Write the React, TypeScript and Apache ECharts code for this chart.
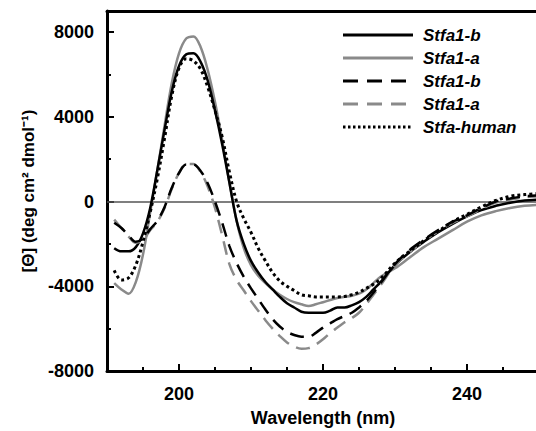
import React, { useEffect, useRef } from "react";
import * as echarts from "echarts";

// Wavelengths (nm)
const wavelengths = [
  191, 192, 193, 194, 195, 196, 197, 198, 199, 200, 201, 202, 203, 204, 205, 206, 207, 208, 209, 210,
  211, 212, 213, 214, 215, 216, 217, 218, 219, 220, 221, 222, 223, 224, 225, 226, 227, 228,
  230, 232, 234, 236, 238, 240, 242, 244, 246, 248, 250,
];

// Stfa1-b (solid black)
const stfa1bSolid = [
  -2200, -2350, -2350, -2150, -1500, -300, 1500, 3400, 5200, 6400, 6950, 7000, 6600, 5700, 4300, 2700, 900, -900, -2000, -2800,
  -3350, -3800, -4150, -4500, -4800, -5000, -5200, -5250, -5250, -5250, -5150, -5000, -5000, -4900, -4750, -4500, -4150, -3800,
  -3000, -2400, -1900, -1450, -1050, -700, -400, -200, -50, 50, 100,
];

// Stfa1-a (solid gray)
const stfa1aSolid = [
  -3850, -4150, -4350, -3800, -2500, -500, 1500, 3600, 5600, 7000, 7700, 7800, 7300, 6200, 4700, 2900, 900, -900, -2200, -3000,
  -3500, -3850, -4150, -4400, -4600, -4750, -4850, -4930, -4850, -4750, -4650, -4550, -4500, -4450, -4350, -4150, -3850, -3550,
  -3150, -2650, -2150, -1750, -1350, -950, -650, -450, -300, -200, -150,
];

// Stfa1-b (dashed black)
const stfa1bDashed = [
  -1000, -1250, -1600, -1900, -1750, -1300, -900, -250, 650, 1350, 1750, 1750, 1450, 850, 0, -1000, -2100, -2900, -3550, -4100,
  -4600, -5100, -5550, -5900, -6150, -6300, -6380, -6380, -6200, -5950, -5750, -5550, -5400, -5250, -5000, -4700, -4300, -3850,
  -2950, -2300, -1800, -1350, -950, -650, -300, 0, 150, 250, 300,
];

// Stfa1-a (dashed gray)
const stfa1aDashed = [
  -850, -1250, -1650, -1950, -1800, -1350, -950, -300, 600, 1350, 1780, 1780, 1400, 700, -300, -1600, -2950, -3700, -4200, -4700,
  -5150, -5600, -6000, -6350, -6650, -6850, -6950, -6920, -6750, -6500, -6200, -5950, -5700, -5500, -5250, -4850, -4400, -3950,
  -3000, -2400, -1850, -1400, -1000, -700, -350, -50, 100, 200, 250,
];

// Stfa-human (dotted black)
const stfaHuman = [
  -3250, -3700, -3600, -3000, -1900, -500, 1100, 3000, 5000, 6300, 6750, 6650, 6250, 5400, 4300, 3050, 1400, 0, -800, -1450,
  -2200, -2800, -3350, -3750, -4000, -4200, -4400, -4450, -4500, -4500, -4500, -4500, -4480, -4400, -4280, -4100, -3900, -3650,
  -2900, -2350, -1850, -1400, -950, -600, -250, 50, 250, 330, 380,
];

const legendLabels = ["Stfa1-b", "Stfa1-a", "Stfa1-b", "Stfa1-a", "Stfa-human"];

const xLabelTicks = [200, 220, 240];
const yLabelTicks = [-8000, -4000, 0, 4000, 8000];

const BLACK = "#000000";
const GRAY = "#8a8a8a";
const FONT = "Liberation Sans, Arial, sans-serif";

const pairs = (vals: number[]) => wavelengths.map((w, i) => [w, vals[i]]);

export default function App() {
  const ref = useRef<HTMLDivElement>(null);

  useEffect(() => {
    if (!ref.current) return;
    const chart = echarts.init(ref.current, null, { renderer: "svg" });

    const styles = [
      { color: BLACK, type: "solid" as any, width: 2.5 },
      { color: GRAY, type: "solid" as any, width: 2.5 },
      { color: BLACK, type: [14, 8] as any, width: 2.5 },
      { color: GRAY, type: [14, 8] as any, width: 2.5 },
      { color: BLACK, type: [3, 3] as any, width: 3 },
    ];
    const datasets = [stfa1bSolid, stfa1aSolid, stfa1bDashed, stfa1aDashed, stfaHuman];
    const drawOrder = [1, 0, 3, 2, 4];

    const series: any[] = drawOrder.map((idx, k) => ({
      type: "line",
      name: legendLabels[idx] + "_" + idx,
      data: pairs(datasets[idx]),
      showSymbol: false,
      symbol: "none",
      smooth: 0.35,
      lineStyle: { ...styles[idx], cap: "butt" },
      z: 3 + k,
      markLine:
        k === 0
          ? {
              silent: true,
              symbol: "none",
              label: { show: false },
              lineStyle: { color: "#555", width: 1.5, type: "solid" },
              data: [{ yAxis: 0 }],
              z: 1,
            }
          : undefined,
    }));

    const legendStartY = 35;
    const legendGap = 23;
    const legendElems: any[] = [];
    legendLabels.forEach((lab, i) => {
      const y = legendStartY + i * legendGap;
      const s = styles[i];
      legendElems.push({
        type: "line",
        shape: { x1: 343, y1: y, x2: 413, y2: y },
        style: {
          stroke: s.color,
          lineWidth: 3,
          lineDash: Array.isArray(s.type) ? (i === 4 ? [2.5, 2.5] : [15, 9]) : null,
        },
      });
      legendElems.push({
        type: "text",
        x: 423,
        y,
        style: {
          text: lab,
          font: "italic bold 17px " + FONT,
          fill: BLACK,
          textVerticalAlign: "middle",
          textAlign: "left",
        },
      });
    });

    const labelStyle = {
      fontSize: 18,
      fontWeight: "bold" as const,
      color: BLACK,
      fontFamily: FONT,
    };

    const baseX = { type: "value", min: 190, max: 250, splitLine: { show: false } };
    const baseY = { type: "value", min: -8000, max: 9000, splitLine: { show: false } };

    chart.setOption({
      animation: false,
      backgroundColor: "#ffffff",
      grid: {
        left: 107,
        top: 11,
        width: 432,
        height: 360,
        containLabel: false,
        outerBoundsMode: "none",
      },
      xAxis: [
        {
          ...baseX,
          interval: 5,
          position: "bottom",
          axisLine: { show: true, onZero: false, lineStyle: { color: BLACK, width: 3 } },
          axisTick: { show: true, inside: true, length: 4, lineStyle: { color: BLACK, width: 2 } },
          axisLabel: {
            ...labelStyle,
            margin: 14,
            hideOverlap: false,
            interval: 0,
            formatter: (v: number) => (xLabelTicks.includes(v) ? String(v) : ""),
          },
          name: "Wavelength (nm)",
          nameLocation: "middle",
          nameGap: 38,
          nameTextStyle: { ...labelStyle },
        },
        {
          ...baseX,
          position: "top",
          axisLine: { show: true, onZero: false, lineStyle: { color: BLACK, width: 3 } },
          axisTick: { show: false },
          axisLabel: { show: false },
        },
      ],
      yAxis: [
        {
          ...baseY,
          interval: 2000,
          position: "left",
          axisLine: { show: true, onZero: false, lineStyle: { color: BLACK, width: 3 } },
          axisTick: { show: true, inside: true, length: 4, lineStyle: { color: BLACK, width: 2 } },
          axisLabel: {
            ...labelStyle,
            margin: 13,
            interval: 0,
            hideOverlap: false,
            formatter: (v: number) => (yLabelTicks.includes(v) ? String(v) : ""),
          },
          name: "[Θ] (deg cm² dmol⁻¹)",
          nameLocation: "middle",
          nameGap: 69,
          nameRotate: 90,
          nameTextStyle: { ...labelStyle, fontSize: 17 },
        },
        {
          ...baseY,
          interval: 4000,
          position: "left",
          axisLine: { show: false, onZero: false },
          axisTick: { show: true, inside: true, length: 7, lineStyle: { color: BLACK, width: 2 } },
          axisLabel: { show: false },
        },
      ],
      series,
      graphic: legendElems,
    });

    // Longer major ticks on the wavelength axis at the labelled values
    const tickElems: any[] = xLabelTicks.map((v) => {
      const p = chart.convertToPixel({ xAxisIndex: 0, yAxisIndex: 0 }, [v, -8000]) as number[];
      return {
        type: "line",
        shape: { x1: p[0], y1: p[1], x2: p[0], y2: p[1] - 7 },
        style: { stroke: BLACK, lineWidth: 2 },
        z: 100,
      };
    });
    chart.setOption({ graphic: [...legendElems, ...tickElems] });

    return () => chart.dispose();
  }, []);

  return (
    <div
      ref={ref}
      style={{ position: "fixed", left: 0, top: 0, width: 536, height: 431, background: "#fff" }}
    />
  );
}
